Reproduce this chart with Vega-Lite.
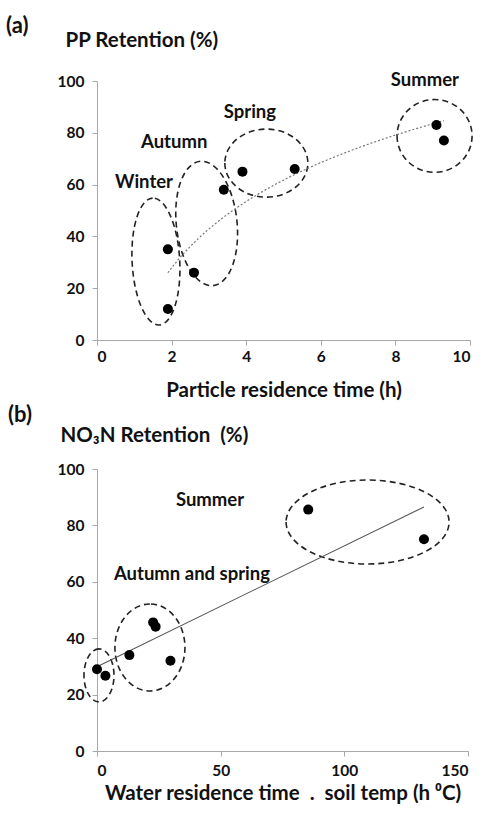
{
  "$schema": "https://vega.github.io/schema/vega-lite/v6.json",
  "background": "white",
  "padding": {"left": 6, "top": 15, "right": 5, "bottom": 5},
  "spacing": 3,
  "config": {
    "font": "Lato, DejaVu Sans",
    "view": {"stroke": null},
    "axis": {
      "grid": false,
      "domainColor": "#a8a8a8",
      "tickColor": "#a8a8a8",
      "tickSize": 5,
      "labelFont": "Lato, DejaVu Sans",
      "labelFontSize": 15.5,
      "labelFontWeight": "bold",
      "labelColor": "#111",
      "labelPadding": 4,
      "titleFont": "Lato, DejaVu Sans",
      "titleFontSize": 20.5,
      "titleFontWeight": "bold",
      "titleColor": "#111"
    },
    "axisY": {"labelPadding": 8},
    "title": {"font": "Lato, DejaVu Sans", "fontSize": 22, "fontWeight": "bold", "color": "#111"}
  },
  "datasets": {
    "pp": [
      {"t": 1.9, "r": 35}, {"t": 1.9, "r": 12}, {"t": 2.6, "r": 26}, {"t": 3.4, "r": 58},
      {"t": 3.9, "r": 65}, {"t": 5.3, "r": 66}, {"t": 9.1, "r": 83}, {"t": 9.3, "r": 77}
    ],
    "ppSeasons": [
      {"season": "Winter", "cx": 1.58, "cy": 30.3, "lx": 1.26, "ly": 61},
      {"season": "Autumn", "cx": 2.94, "cy": 45.0, "lx": 2.07, "ly": 76.4},
      {"season": "Spring", "cx": 4.54, "cy": 68.3, "lx": 4.1, "ly": 88},
      {"season": "Summer", "cx": 9.05, "cy": 78.8, "lx": 8.79, "ly": 100.4}
    ],
    "no3": [
      {"w": 0, "r": 29}, {"w": 3.4, "r": 26.7}, {"w": 13.1, "r": 34}, {"w": 22.7, "r": 45.6},
      {"w": 23.7, "r": 44.1}, {"w": 29.7, "r": 32}, {"w": 85.4, "r": 85.6}, {"w": 132.2, "r": 75.1}
    ],
    "no3Groups": [
      {"group": "Winter", "cx": 0.8, "cy": 26.8},
      {"group": "Autumn and spring", "cx": 21.4, "cy": 36.7},
      {"group": "Summer", "cx": 109.4, "cy": 81.2}
    ],
    "no3Labels": [
      {"label": "Summer", "lx": 45.7, "ly": 89},
      {"label": "Autumn and spring", "lx": 38.4, "ly": 62.8}
    ]
  },
  "vconcat": [
    {
      "width": 373,
      "height": 259,
      "title": {"text": "(a)", "anchor": "start", "frame": "group", "dx": -91, "offset": -8},
      "encoding": {
        "x": {"field": "t", "type": "quantitative"},
        "y": {"field": "r", "type": "quantitative"}
      },
      "layer": [
        {
          "data": {"name": "ppSeasons"},
          "transform": [{"filter": "datum.season == 'Winter'"}],
          "mark": {"type": "point", "shape": "M0,-1A0.375,1 0 1 0 0,1A0.375,1 0 1 0 0,-1Z", "size": 16129, "angle": -3, "filled": false, "stroke": "#222", "strokeWidth": 1.6, "strokeDash": [6, 4], "opacity": 1, "clip": false},
          "encoding": {"x": {"field": "cx", "type": "quantitative"}, "y": {"field": "cy", "type": "quantitative"}}
        },
        {
          "data": {"name": "ppSeasons"},
          "transform": [{"filter": "datum.season == 'Autumn'"}],
          "mark": {"type": "point", "shape": "M0,-1A0.486,1 0 1 0 0,1A0.486,1 0 1 0 0,-1Z", "size": 15625, "angle": -6, "filled": false, "stroke": "#222", "strokeWidth": 1.6, "strokeDash": [6, 4], "opacity": 1, "clip": false},
          "encoding": {"x": {"field": "cx", "type": "quantitative"}, "y": {"field": "cy", "type": "quantitative"}}
        },
        {
          "data": {"name": "ppSeasons"},
          "transform": [{"filter": "datum.season == 'Spring'"}],
          "mark": {"type": "point", "shape": "M-1,0A1,0.82 0 1 0 1,0A1,0.82 0 1 0 -1,0Z", "size": 6889, "filled": false, "stroke": "#222", "strokeWidth": 1.6, "strokeDash": [6, 4], "opacity": 1, "clip": false},
          "encoding": {"x": {"field": "cx", "type": "quantitative"}, "y": {"field": "cy", "type": "quantitative"}}
        },
        {
          "data": {"name": "ppSeasons"},
          "transform": [{"filter": "datum.season == 'Summer'"}],
          "mark": {"type": "point", "shape": "M-1,0A1,0.97 0 1 0 1,0A1,0.97 0 1 0 -1,0Z", "size": 5625, "filled": false, "stroke": "#222", "strokeWidth": 1.6, "strokeDash": [6, 4], "opacity": 1, "clip": false},
          "encoding": {"x": {"field": "cx", "type": "quantitative"}, "y": {"field": "cy", "type": "quantitative"}}
        },
        {
          "data": {"name": "pp"},
          "transform": [{"regression": "r", "on": "t", "method": "log"}],
          "mark": {"type": "line", "color": "#777", "strokeWidth": 1.2, "strokeDash": [2, 2]},
          "encoding": {}
        },
        {
          "data": {"name": "pp"},
          "mark": {"type": "circle", "size": 100, "color": "black", "opacity": 1},
          "encoding": {
            "x": {"field": "t", "type": "quantitative", "title": "Particle residence time (h)", "scale": {"domain": [0, 10], "nice": false}, "axis": {"values": [0, 2, 4, 6, 8, 10], "labelPadding": 4, "titlePadding": 16}},
            "y": {"field": "r", "type": "quantitative", "title": "PP Retention (%)", "scale": {"domain": [0, 100], "nice": false}, "axis": {"values": [0, 20, 40, 60, 80, 100], "titleAngle": 0, "titleAlign": "left", "titleBaseline": "middle", "titleX": -32, "titleY": -41}}
          }
        },
        {
          "data": {"name": "ppSeasons"},
          "mark": {"type": "text", "fontSize": 18.5, "fontWeight": "bold", "color": "#111", "align": "center", "baseline": "middle"},
          "encoding": {"x": {"field": "lx", "type": "quantitative"}, "y": {"field": "ly", "type": "quantitative"}, "text": {"field": "season"}}
        }
      ]
    },
    {
      "width": 371,
      "height": 282,
      "title": {"text": "(b)", "anchor": "start", "frame": "group", "dx": -89, "offset": -2},
      "encoding": {
        "x": {"field": "w", "type": "quantitative"},
        "y": {"field": "r", "type": "quantitative"}
      },
      "layer": [
        {
          "data": {"name": "no3Groups"},
          "transform": [{"filter": "datum.group == 'Winter'"}],
          "mark": {"type": "point", "shape": "M0,-1A0.566,1 0 1 0 0,1A0.566,1 0 1 0 0,-1Z", "size": 2809, "filled": false, "stroke": "#222", "strokeWidth": 1.6, "strokeDash": [6, 4], "opacity": 1, "clip": false},
          "encoding": {"x": {"field": "cx", "type": "quantitative"}, "y": {"field": "cy", "type": "quantitative"}}
        },
        {
          "data": {"name": "no3Groups"},
          "transform": [{"filter": "datum.group == 'Autumn and spring'"}],
          "mark": {"type": "point", "shape": "M0,-1A0.805,1 0 1 0 0,1A0.805,1 0 1 0 0,-1Z", "size": 7569, "filled": false, "stroke": "#222", "strokeWidth": 1.6, "strokeDash": [6, 4], "opacity": 1, "clip": false},
          "encoding": {"x": {"field": "cx", "type": "quantitative"}, "y": {"field": "cy", "type": "quantitative"}}
        },
        {
          "data": {"name": "no3Groups"},
          "transform": [{"filter": "datum.group == 'Summer'"}],
          "mark": {"type": "point", "shape": "M-1,0A1,0.515 0 1 0 1,0A1,0.515 0 1 0 -1,0Z", "size": 26569, "filled": false, "stroke": "#222", "strokeWidth": 1.6, "strokeDash": [6, 4], "opacity": 1, "clip": false},
          "encoding": {"x": {"field": "cx", "type": "quantitative"}, "y": {"field": "cy", "type": "quantitative"}}
        },
        {
          "data": {"name": "no3"},
          "transform": [{"regression": "r", "on": "w"}],
          "mark": {"type": "line", "color": "#555", "strokeWidth": 1.1},
          "encoding": {}
        },
        {
          "data": {"name": "no3"},
          "mark": {"type": "circle", "size": 100, "color": "black", "opacity": 1},
          "encoding": {
            "x": {"field": "w", "type": "quantitative", "title": "Water residence time\u00a0\u00a0.\u00a0\u00a0soil temp (h ⁰C)", "scale": {"domain": [0, 150], "nice": false}, "axis": {"values": [0, 50, 100, 150], "labelPadding": 7, "titlePadding": 5}},
            "y": {"field": "r", "type": "quantitative", "title": "NO₃N Retention\u00a0\u00a0(%)", "scale": {"domain": [0, 100], "nice": false}, "axis": {"values": [0, 20, 40, 60, 80, 100], "titleAngle": 0, "titleAlign": "left", "titleBaseline": "middle", "titleX": -37, "titleY": -34}}
          }
        },
        {
          "data": {"name": "no3Labels"},
          "mark": {"type": "text", "fontSize": 18.5, "fontWeight": "bold", "color": "#111", "align": "center", "baseline": "middle"},
          "encoding": {"x": {"field": "lx", "type": "quantitative"}, "y": {"field": "ly", "type": "quantitative"}, "text": {"field": "label"}}
        }
      ]
    }
  ]
}
